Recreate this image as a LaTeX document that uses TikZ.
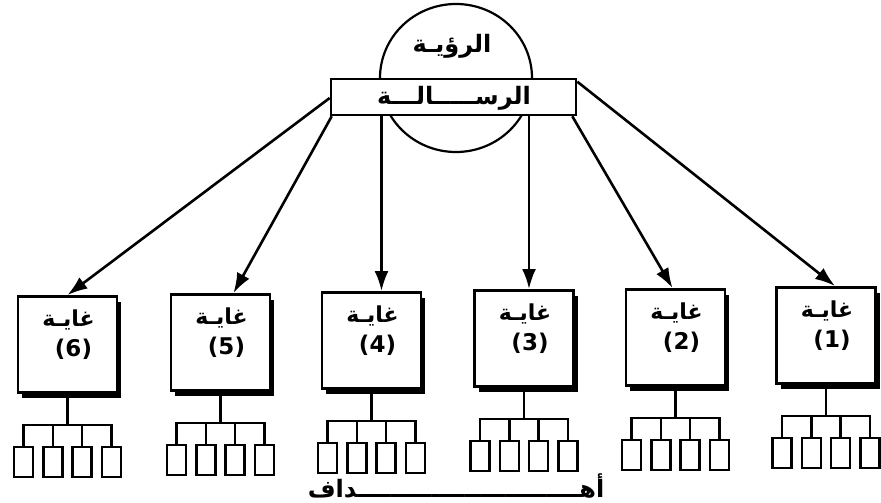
\documentclass[tikz,border=0pt]{standalone}
\usepackage{fontspec}
\newfontfamily\arabicfont[Script=Arabic]{DejaVu Sans}
\newfontfamily\numfont{DejaVu Sans}
\TeXXeTstate=1
\usetikzlibrary{arrows.meta,calc,shadows,shapes.geometric}
\begin{document}
\begin{tikzpicture}[x=1pt,y=-1pt,
  goalbox/.style={draw, line width=2.6pt, fill=white, minimum width=99pt,
    minimum height=96pt, inner sep=0pt, anchor=north,
    general shadow={fill=black, shadow xshift=4pt, shadow yshift=-6pt}},
  leafbox/.style={draw, line width=2.2pt, fill=white, minimum width=19pt,
    minimum height=30pt, inner sep=0pt, anchor=north},
  treeline/.style={line width=2.2pt},
  arr/.style={line width=2.6pt, -{Latex[length=20pt,width=14pt]}},
  artext/.style={font=\arabicfont\bfseries\fontsize{22}{24}\selectfont, inner sep=0pt},
  numtext/.style={font=\numfont\bfseries\fontsize{23}{25}\selectfont, inner sep=0pt}]
\useasboundingbox (0,0) rectangle (881,503);
% vision circle and mission bar
\node[draw, line width=2.2pt, ellipse, minimum width=152pt, minimum height=148pt, inner sep=0pt] (vision) at (456,78) {};
\node[font=\arabicfont\bfseries\fontsize{24}{26}\selectfont, inner sep=0pt] (visiontext) at (452,46) {\beginR الرؤيـة\endR};
\node[draw, line width=2.6pt, fill=white, minimum width=245pt, minimum height=36pt, inner sep=0pt] (msg) at (453.5,97) {};
\node[font=\arabicfont\bfseries\fontsize{24}{26}\selectfont, inner sep=0pt] (msgtext) at (454,98) {\beginR الرســـــالـــة\endR};
% goals
\foreach \i/\cx/\ty in {1/826/286, 2/675.5/288, 3/524/289, 4/371.5/291, 5/220.5/293, 6/67.5/295}{
  \node[goalbox] (b\i) at (\cx,\ty) {};
  \node[artext] (t\i) at ($(b\i.north)+(1,25)$) {\beginR غايـة\endR};
  \node[numtext] (n\i) at ($(b\i.north)+(6,54)$) {(\i)};
  \coordinate (bar\i) at ($(b\i.south)+(0,31)$);
  \foreach \j/\dx in {1/-44, 2/-14.5, 3/14.5, 4/44}{
    \node[leafbox] (g\i-\j) at ($(b\i.south)+(\dx,52)$) {};
  }
  \draw[treeline] (b\i.south) -- (bar\i);
  \draw[treeline] (g\i-1.north) |- (bar\i) -| (g\i-4.north);
  \draw[treeline] (g\i-2.north) -- (g\i-2.north |- bar\i);
  \draw[treeline] (g\i-3.north) -- (g\i-3.north |- bar\i);
}
% connectors
\coordinate (s6) at ($(msg.west)+(0,1)$);
\draw[arr] (s6) -- (b6.north);
\draw[arr] ($(msg.south west)+(2,0)$) -- ([xshift=13pt]b5.north);
\draw[arr] ([xshift=10pt]b4.north |- msg.south) -- ([xshift=10pt]b4.north);
\draw[arr] ([xshift=5pt]b3.north |- msg.south) -- ([xshift=5pt]b3.north);
\draw[arr] ($(msg.south east)+(-5,0)$) -- ([xshift=-3pt]b2.north);
\draw[arr] ($(msg.north east)+(0,4)$) -- ([xshift=9pt]b1.north);
% bottom label
\node[font=\arabicfont\bfseries\fontsize{24}{26}\selectfont, inner sep=0pt, anchor=base] (goals) at (456,497) {\beginR أهـــــــــــــــــــــــــــداف\endR};
\end{tikzpicture}
\end{document}
